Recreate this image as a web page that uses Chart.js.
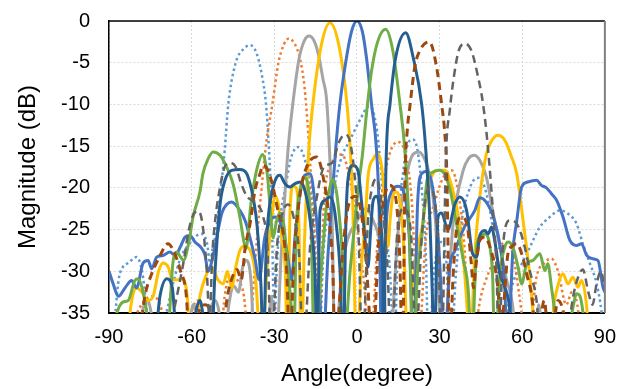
<!DOCTYPE html>
<html lang="en">
<head>
    <meta charset="UTF-8">
    <title>Beam patterns</title>
    <script src="https://cdn.jsdelivr.net/npm/chart.js"></script>
    <style>
        body { margin: 0; background: #fff; }
        #wrap { width: 628px; height: 389px; }
    </style>
</head>
<body>
    <div id="wrap"><canvas id="beamChart" width="628" height="389"></canvas></div>

    <script>
        // angle (degree), magnitude (dB) pairs; -40 = null below axis
        const lightBlueDot = [[-90,-40],[-88,-36],[-86.5,-31],[-85,-29.5],[-83,-29],[-80,-28.3],[-78,-30],[-76.5,-34],[-75,-40],[-70,-36],[-66,-30.5],[-63.5,-28],[-61,-26.8],[-58.5,-25.8],[-56.5,-25.5],[-54.5,-26.5],[-53.3,-29],[-52.5,-27.5],[-51.5,-25.9],[-49.7,-21.1],[-48,-15.5],[-46.7,-10],[-44,-5],[-41,-3.3],[-38.8,-2.9],[-36.5,-3.8],[-34.5,-6.5],[-33,-10],[-32,-15],[-31,-22],[-30,-36],[-29,-29],[-28,-24],[-26,-20],[-24,-16.5],[-21.4,-15.1],[-19,-16.5],[-17,-20],[-15.5,-26],[-14,-40],[-12,-27],[-9.5,-22],[-7,-18],[-5,-15.8],[-3.7,-15],[-1.4,-13.5],[1,-11.9],[4.5,-10.2],[7,-12.5],[8.5,-17],[10,-24],[12,-30],[13.5,-40],[15,-25],[17,-17.5],[18.5,-14.7],[20.3,-14.2],[22,-15.5],[23.5,-20],[25,-28],[26,-40],[28,-30],[30.5,-26.5],[32.5,-29],[34,-40],[36,-30],[38,-24],[41,-20],[43,-18.9],[44.6,-18.8],[47,-20.7],[49.4,-25],[51.5,-31],[53,-40],[55,-34],[57,-31],[60,-29],[62.8,-27.1],[66.4,-24.7],[70,-23.5],[73.6,-22.7],[76.6,-23.1],[79.7,-24.3],[82,-26.7],[84.5,-29],[87,-31.5],[88.8,-35],[90,-40]];

        const orangeDot = [[-90,-40],[-84,-40],[-81,-36],[-77,-33.5],[-74,-33],[-71,-34.5],[-68,-40],[-62,-37],[-58,-33.5],[-55,-36],[-50,-40],[-48,-33],[-46,-30.5],[-43.5,-31],[-41,-33],[-39,-40],[-38,-34],[-36.5,-27],[-34.6,-20],[-32.8,-14.3],[-30.7,-10],[-28.5,-5],[-26.5,-2.8],[-24.7,-2.1],[-22.5,-2.8],[-20.7,-4.5],[-19,-8],[-18,-12],[-17,-17],[-16,-22],[-15,-28],[-14,-40],[-12,-22],[-9,-17],[-5.5,-16],[-2,-20],[1,-27],[3,-33],[4.5,-40],[8,-24],[11,-17],[14.9,-14.5],[18,-16.5],[20,-22],[22.5,-38],[25,-26],[28,-22],[31,-19],[34.4,-17.9],[37,-21],[39,-27],[41,-40],[45,-33],[48,-30],[52,-27],[54,-26.5],[56.6,-28],[59,-33],[62,-40],[65,-31],[68,-29],[70.6,-28.5],[73,-30],[76,-34],[78,-32.5],[80,-34],[82,-40],[90,-40]];

        const greySolid = [[-90,-40],[-80,-40],[-78,-35],[-76,-33.5],[-74,-36],[-70,-40],[-62,-40],[-59.5,-34],[-57.5,-36],[-55,-40],[-53,-34.5],[-51.5,-33.5],[-50,-35],[-48.5,-40],[-46.5,-34],[-44.6,-31.8],[-43,-32.5],[-41.5,-29.5],[-40,-28.7],[-38.5,-31],[-37,-40],[-33,-40],[-31,-33],[-29.5,-40],[-27.5,-28],[-26,-20],[-24.9,-15],[-23.3,-10],[-21,-4.5],[-19,-2.3],[-17.4,-1.8],[-15.5,-2.4],[-14,-4],[-12.3,-7],[-11,-9.5],[-9.8,-16.7],[-9,-24],[-8,-40],[-6,-32],[-4,-27],[0,-24],[3,-22.5],[6,-24],[9,-28],[11.5,-40],[15,-25],[18,-18.5],[20.3,-16],[22.5,-15.7],[24.5,-16.5],[26,-18],[28.5,-24],[31,-40],[35,-24],[38.5,-18],[40.5,-16.5],[42.5,-16.1],[44.6,-16.7],[47,-18.7],[49.4,-23],[51.9,-27.1],[54.3,-31],[56.6,-34.3],[58,-40],[64,-40],[66,-34],[68,-40],[90,-40]];

        const goldSolid = [[-90,-40],[-84,-40],[-82,-34],[-80,-32],[-78,-32.5],[-76,-33.5],[-74,-33],[-72,-30],[-70.4,-29],[-68.5,-29.5],[-67,-31],[-65,-31],[-63.5,-30.9],[-61.7,-32.7],[-60,-40],[-57,-33],[-55,-30.7],[-52.7,-29.5],[-50.5,-31],[-48.5,-31.5],[-47,-30],[-45.5,-32],[-44,-29.5],[-42.5,-27.5],[-41,-27],[-38.8,-27.5],[-37,-30],[-34.6,-40],[-32.7,-30],[-31,-24],[-29.8,-21],[-28.5,-22],[-27.3,-25.9],[-26,-30],[-25.2,-40],[-24.3,-23],[-23.2,-19.8],[-22,-20],[-21,-25],[-20.3,-40],[-19,-26],[-17.4,-15],[-16,-10],[-13,-3],[-9.8,-0.2],[-6.5,-3],[-3.6,-10],[-2.5,-15],[-1.5,-22],[-0.7,-35],[0,-40],[1.5,-30],[3,-24],[4,-18.7],[6,-16.5],[7.6,-15.9],[9,-17.5],[10.2,-21.8],[11.3,-27],[12,-24],[13,-21],[14.5,-20.5],[15.8,-22],[17,-27],[18.5,-40],[20,-33],[21.5,-28],[23.5,-25],[25.5,-20.5],[27,-18.7],[29.4,-17.9],[31.9,-17.9],[34.5,-19.9],[36.6,-23],[38.5,-28],[40,-34.3],[41,-40],[42.8,-27.9],[44.6,-21.1],[47,-15.9],[49,-14.3],[51.2,-13.7],[53,-14],[54.3,-14.7],[56,-16.2],[58,-18.3],[60.3,-23.9],[62.8,-30.7],[63.9,-35],[65,-40],[70,-40],[71.5,-34],[72.5,-32.3],[74.8,-30.3],[76.6,-31.5],[78.4,-30.7],[80.2,-31.9],[81.5,-31.1],[83.4,-34.3],[84.5,-40],[90,-40]];

        const blueSolid = [[-90,-30],[-88.5,-31.5],[-86.6,-33],[-84.2,-32],[-81.8,-31.1],[-80,-32],[-77.6,-29],[-75.8,-28.7],[-74.5,-29.7],[-72.7,-28.3],[-70.4,-28.1],[-67.9,-27.7],[-66,-28.1],[-64,-27],[-62.4,-25.9],[-60.6,-25.7],[-58.8,-26.5],[-57,-27],[-55.2,-28],[-54,-30],[-52.8,-29],[-51.5,-27],[-49,-23],[-47.3,-22],[-45.5,-21.7],[-42.5,-22.7],[-40.5,-24],[-38.8,-26],[-37,-28.5],[-35.5,-31],[-33.5,-26],[-31.6,-24],[-29.8,-23.5],[-28,-24],[-26,-26.5],[-24.8,-29],[-23.7,-31],[-22.5,-26],[-21,-21.5],[-19,-18.5],[-17,-18.3],[-15.5,-21],[-14,-27],[-12.5,-40],[-10.5,-28],[-9,-21],[-7.5,-14.5],[-6.2,-10],[-4,-4.8],[-2,-1.3],[0,0],[2,-1.3],[3.5,-4.5],[5.3,-10],[7,-15],[8,-22],[9,-40],[10.5,-25],[12.5,-20.5],[15,-19.8],[17.4,-21],[19,-26],[20.5,-40],[22,-22],[23.5,-18.3],[25.5,-18],[27.5,-20],[29.5,-26],[31,-35],[32,-40],[33.5,-30],[35.6,-27.5],[39,-24.7],[42.8,-22.7],[44.6,-21.2],[47.5,-22],[50,-24],[52,-27],[53.5,-31],[54.8,-40],[56.5,-28],[58,-24],[59.8,-19.9],[62,-19.3],[65.2,-19.1],[67,-19.7],[68.8,-20],[70.6,-20.7],[72.5,-21.5],[74.8,-23.5],[77.3,-26.3],[79.7,-26.9],[81.5,-26.7],[83.4,-28.1],[85.7,-28.5],[87.5,-28.7],[89.3,-31.9],[90,-32.5]];

        const greenSolid = [[-90,-40],[-88,-36],[-85,-33.7],[-83,-33.5],[-80.6,-31.1],[-79.4,-30.9],[-78,-32],[-76.3,-35],[-75,-40],[-69,-40],[-68,-35],[-66.8,-29],[-65.4,-27.7],[-64,-28.3],[-63,-28.7],[-61,-26.5],[-59.5,-23.5],[-57,-20.5],[-55.9,-18.3],[-54,-16.5],[-52.2,-15.7],[-49.7,-16.1],[-47.3,-17.5],[-45,-19.5],[-42.5,-23.5],[-41,-26.5],[-40.3,-27.3],[-38.5,-22],[-36.5,-18],[-34.2,-16],[-32.5,-18.5],[-31.6,-22],[-30.4,-26],[-29.2,-24],[-28,-23],[-26.5,-24.5],[-25,-30],[-23.7,-35],[-23,-40],[-22,-25],[-20.5,-20],[-18.9,-18.8],[-17.5,-20.5],[-16.5,-26],[-15.5,-40],[-13,-30],[-11,-22],[-9.5,-19.5],[-8.7,-19],[-7.2,-21],[-5.5,-27],[-4,-36],[-2.5,-30],[-1,-25],[0.5,-20],[2,-16],[3.5,-11],[5.3,-6],[7.5,-2.5],[10.4,-1],[13,-3.5],[15.6,-9.9],[17.4,-15.5],[19,-25],[20.5,-40],[22,-30],[23.5,-26],[25.5,-19],[27,-18.2],[30,-17.9],[32,-18.5],[34,-20.5],[36,-24],[38.5,-28.5],[40.5,-32.7],[41.5,-40],[43.5,-27],[44.6,-25.9],[46.4,-25.5],[48.3,-27.1],[49.3,-31],[50,-40],[52,-30],[53.7,-27.1],[54.8,-26.5],[56.6,-27.1],[58.5,-29.5],[59.8,-31.5],[61.6,-29.1],[63.9,-28.7],[66.4,-27.9],[68.2,-29.9],[69.3,-29.1],[70.6,-31.9],[71.8,-35],[73,-40],[78,-35],[79.7,-32.7],[81,-33],[82.5,-36],[84,-40],[90,-40]];

        const darkBlueSolid = [[-90,-40],[-74,-40],[-71.5,-33],[-69,-30.9],[-67,-32],[-65,-40],[-60,-40],[-58.5,-35],[-57,-33.5],[-55.5,-36],[-53,-40],[-51.5,-30],[-49.7,-22],[-47.9,-19.1],[-45.5,-17.9],[-42.5,-17.8],[-40,-18.3],[-38.8,-19.5],[-37.5,-21.5],[-36.2,-24.7],[-34.8,-32],[-34,-40],[-33,-28],[-32.3,-23.9],[-30.5,-20],[-29.1,-18.7],[-28,-18.5],[-26.1,-19.5],[-24.3,-19.9],[-22.5,-19.5],[-20.7,-19.3],[-18.9,-20.3],[-17,-23.9],[-15.2,-30.7],[-14.5,-40],[-13.4,-22.7],[-11.6,-21.5],[-9.8,-21.1],[-8.5,-22],[-7.4,-24.7],[-6.2,-29.5],[-5,-40],[-4,-24],[-3.3,-19.1],[-1.4,-17.3],[0.4,-18],[1.7,-21.8],[2.9,-26],[4,-29.5],[5,-25],[5.8,-21.7],[7,-21],[8.3,-22.7],[9.2,-28],[9.8,-40],[10.5,-18],[12,-10],[14,-4.5],[17.7,-1.4],[20.5,-4.5],[23.5,-10],[25,-15.5],[26.5,-24],[27.3,-32],[28,-40],[29.4,-23.5],[30.7,-23],[33,-25],[35.6,-21.9],[37.4,-21.1],[39.8,-22.7],[42,-27.9],[43.4,-28.3],[44.6,-25.7],[46.4,-25.1],[47.6,-25.5],[48.9,-24.7],[50,-26.3],[51.9,-30.3],[53.7,-31.9],[55.5,-34.7],[56.5,-40],[90,-40]];

        const brownDash = [[-90,-40],[-80,-40],[-77,-33],[-74.5,-30.3],[-72,-28.5],[-68.6,-26.7],[-66,-28],[-64,-30],[-62,-32.7],[-60.5,-40],[-57,-34.5],[-55,-34],[-53,-35],[-50,-40],[-47,-33],[-45,-30.5],[-43.5,-29.8],[-42,-31],[-40.5,-27],[-38.8,-24.3],[-37,-20.3],[-35.2,-18.3],[-34,-17.3],[-32.3,-17.9],[-30.4,-20],[-28.5,-23],[-27.3,-24.3],[-25.5,-30],[-24.3,-40],[-23,-29],[-21.5,-23],[-20,-19.5],[-17.5,-17],[-14.6,-16.3],[-11.6,-19.9],[-10,-24],[-8.7,-30.3],[-8,-40],[-5,-27],[-3,-22],[-0.5,-21],[2,-24],[4,-32],[5.5,-40],[8,-26],[10,-21],[12,-19.7],[14,-21],[15.5,-28],[16.5,-40],[17.5,-18],[18.3,-13],[19.2,-10.3],[21,-5.5],[22.9,-3.5],[26.3,-2.5],[28.9,-5.5],[30.7,-9.9],[31.9,-13.5],[32.6,-18],[33.1,-28],[33.5,-40],[35,-30],[36.6,-24],[38,-23.5],[40,-24.5],[41.5,-29],[42.3,-32],[43.3,-29],[44.6,-26.3],[46.4,-25.9],[48.3,-27.1],[50.7,-30.7],[52.5,-36],[54.8,-27.9],[56,-27.1],[58,-26.7],[59.8,-27.9],[61.6,-30.3],[63.9,-34.3],[65,-40],[68,-33.5],[70,-40],[73,-33.5],[75,-35],[77,-40],[90,-40]];

        const darkGreyDash = [[-90,-40],[-70,-40],[-66,-34],[-63,-29],[-61,-25],[-59,-23],[-57.5,-22.8],[-56,-24.5],[-54.5,-30],[-53.5,-36],[-52.5,-28],[-51.5,-24],[-50,-20.5],[-48,-17.5],[-46,-17],[-44,-17.5],[-42,-19.5],[-40,-21],[-38,-21.5],[-36,-22],[-34,-23.5],[-32.5,-27],[-31,-40],[-29,-27],[-27,-23],[-25,-22],[-23,-23.5],[-21,-28],[-19.5,-40],[-17,-27],[-14.5,-21],[-12,-17.5],[-9,-17],[-6.5,-14.5],[-4.3,-13.6],[-2.5,-14.5],[-1,-18],[0.5,-25],[2,-40],[4,-24],[5.5,-20],[7.1,-18.9],[9,-22],[11,-29],[12.5,-40],[14.5,-26],[17,-22.5],[19.5,-25],[21.5,-38],[23.5,-26],[26,-20],[28,-21],[29.5,-27],[30.8,-40],[32.3,-16.3],[33.7,-10.7],[35.5,-6],[37,-3.5],[39.2,-2.7],[41.5,-3.5],[43.5,-6],[45.8,-10],[47.5,-15],[49.4,-23],[50.7,-30],[51.5,-40],[53,-27],[55.5,-23.9],[58,-24.3],[60.3,-26.3],[62.8,-30],[65.2,-33.5],[67,-40],[76,-40],[78,-34],[80.5,-30.5],[82,-29.8],[84,-32.5],[85.5,-34],[87,-31.5],[88.5,-30],[90,-32]];

        const xTicks = [-90, -60, -30, 0, 30, 60, 90];
        const yTicks = [0, -5, -10, -15, -20, -25, -30, -35];

        function toPoints(pairs) {
            return pairs.map(p => ({ x: p[0], y: p[1] }));
        }

        const seriesList = [
            { data: lightBlueDot, color: '#5B9BD5', dash: [2.5, 3], width: 2.5 },
            { data: orangeDot, color: '#ED7D31', dash: [2.5, 3], width: 2.5 },
            { data: greySolid, color: '#A5A5A5', dash: [], width: 3 },
            { data: goldSolid, color: '#FFC000', dash: [], width: 3 },
            { data: blueSolid, color: '#4472C4', dash: [], width: 3 },
            { data: greenSolid, color: '#70AD47', dash: [], width: 3 },
            { data: darkBlueSolid, color: '#255E91', dash: [], width: 3 },
            { data: brownDash, color: '#9E480E', dash: [8, 5], width: 3 },
            { data: darkGreyDash, color: '#636363', dash: [8, 5], width: 2.5 }
        ];

        const datasets = seriesList.map((s, i) => ({
            data: toPoints(s.data),
            showLine: true,
            borderColor: s.color,
            borderWidth: s.width,
            borderDash: s.dash,
            borderCapStyle: 'butt',
            pointRadius: 0,
            cubicInterpolationMode: 'monotone',
            fill: false,
            order: seriesList.length - i
        }));

        // frame lines on top and right of the plot
        const framePlugin = {
            id: 'frame',
            afterDraw(chart) {
                const { ctx, chartArea: a } = chart;
                ctx.save();
                ctx.lineWidth = 1.5;
                ctx.strokeStyle = '#000';
                ctx.beginPath();
                ctx.moveTo(a.left, a.top);
                ctx.lineTo(a.right, a.top);
                ctx.stroke();
                ctx.lineWidth = 2;
                ctx.strokeStyle = '#7F7F7F';
                ctx.beginPath();
                ctx.moveTo(a.right, a.top);
                ctx.lineTo(a.right, a.bottom);
                ctx.stroke();
                ctx.restore();
            }
        };

        const tickFont = { family: 'Liberation Sans, Arial, sans-serif', size: 20 };
        const titleFont = { family: 'Liberation Sans, Arial, sans-serif', size: 24 };

        new Chart(document.getElementById('beamChart').getContext('2d'), {
            type: 'scatter',
            data: { datasets: datasets },
            options: {
                responsive: false,
                animation: false,
                layout: { padding: { top: 21, right: 23, left: 0, bottom: 0 } },
                plugins: {
                    legend: { display: false },
                    tooltip: { enabled: false }
                },
                scales: {
                    x: {
                        type: 'linear',
                        min: -90,
                        max: 90,
                        afterBuildTicks: scale => { scale.ticks = xTicks.map(v => ({ value: v })); },
                        afterFit: scale => { scale.height = 76; },
                        ticks: { color: '#000', font: tickFont, padding: 12, maxRotation: 0 },
                        grid: { color: '#D9D9D9', lineWidth: 1, drawTicks: false },
                        border: { display: true, color: '#000', width: 2, dash: [2, 2] },
                        title: {
                            display: true,
                            text: 'Angle(degree)',
                            color: '#000',
                            font: titleFont,
                            padding: { top: 0, bottom: 0 }
                        }
                    },
                    y: {
                        type: 'linear',
                        min: -35,
                        max: 0,
                        afterBuildTicks: scale => { scale.ticks = yTicks.map(v => ({ value: v })); },
                        afterFit: scale => {
                            scale.width = 109;
                            scale.paddingTop = 0;
                            scale.paddingBottom = 0;
                        },
                        ticks: { color: '#000', font: tickFont, padding: 19 },
                        grid: { color: '#D9D9D9', lineWidth: 1, drawTicks: false },
                        border: { display: true, color: '#000', width: 1.5, dash: [2, 2] },
                        title: {
                            display: true,
                            text: 'Magnitude (dB)',
                            color: '#000',
                            font: titleFont,
                            padding: { top: 14, bottom: 0 }
                        }
                    }
                }
            },
            plugins: [framePlugin]
        });
    </script>
</body>
</html>
